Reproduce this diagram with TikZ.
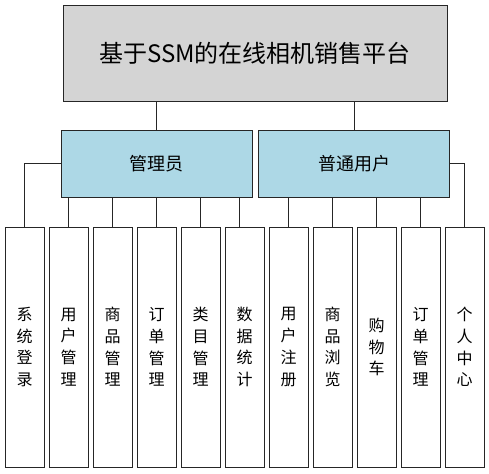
\documentclass[tikz,border=0pt]{standalone}
\usepackage{xcolor}
\usepackage{fontspec}
\setmainfont{Noto Sans CJK SC}
\usepackage{tikz}
\usetikzlibrary{positioning}
\definecolor{titlegray}{HTML}{D4D4D4}
\definecolor{roleblue}{HTML}{ADD8E6}

\begin{document}
\begin{tikzpicture}[x=1pt, y=-1pt, node distance=4.2pt,
    box/.style={draw=black!85, line width=0.8pt, rectangle, inner sep=0pt},
    role/.style={box, fill=roleblue, minimum width=191pt, minimum height=67pt, font=\fontsize{18}{22}\selectfont},
    leaf/.style={box, fill=white, minimum width=39pt, minimum height=240pt, align=center, font=\fontsize{16}{21.7}\selectfont}]
    \useasboundingbox (0,0) rectangle (489,473);
    \node (title) [box, fill=titlegray, minimum width=384pt, minimum height=96pt, font=\fontsize{24}{28}\selectfont] at (255,53) {基于SSM的在线相机销售平台};
    \node (admin) [role] at (156.5,163.5) {管理员};
    \node (user) [role] at (354,163.5) {普通用户};

    \node (login) [leaf] at (24.5,347) {系\\统\\登\\录};
    \node (usermgr) [leaf, right=of login] {用\\户\\管\\理};
    \node (goodsmgr) [leaf, right=of usermgr] {商\\品\\管\\理};
    \node (ordermgr) [leaf, right=of goodsmgr] {订\\单\\管\\理};
    \node (catmgr) [leaf, right=of ordermgr] {类\\目\\管\\理};
    \node (stats) [leaf, right=of catmgr] {数\\据\\统\\计};
    \node (register) [leaf, right=of stats] {用\\户\\注\\册};
    \node (browse) [leaf, right=of register] {商\\品\\浏\\览};
    \node (cart) [leaf, right=of browse] {购\\物\\车};
    \node (orders) [leaf, right=of cart] {订\\单\\管\\理};
    \node (center) [leaf, right=of orders] {个\\人\\中\\心};

    \draw[black!85, line width=0.8pt] (admin.north) -- (admin.north |- title.south);
    \draw[black!85, line width=0.8pt] (user.north) -- (user.north |- title.south);

    \draw[black!85, line width=0.8pt] (admin.west) -| (login.north);
    \draw[black!85, line width=0.8pt] (usermgr.north) -- (usermgr.north |- admin.south);
    \draw[black!85, line width=0.8pt] (goodsmgr.north) -- (goodsmgr.north |- admin.south);
    \draw[black!85, line width=0.8pt] (ordermgr.north) -- (ordermgr.north |- admin.south);
    \draw[black!85, line width=0.8pt] (catmgr.north) -- (catmgr.north |- admin.south);
    \draw[black!85, line width=0.8pt] ([xshift=-5pt]stats.north) -- ([xshift=-5pt]stats.north |- admin.south);

    \draw[black!85, line width=0.8pt] (register.north) -- (register.north |- user.south);
    \draw[black!85, line width=0.8pt] (browse.north) -- (browse.north |- user.south);
    \draw[black!85, line width=0.8pt] (cart.north) -- (cart.north |- user.south);
    \draw[black!85, line width=0.8pt] (orders.north) -- (orders.north |- user.south);
    \draw[black!85, line width=0.8pt] (user.east) -| (center.north);
\end{tikzpicture}
\end{document}
